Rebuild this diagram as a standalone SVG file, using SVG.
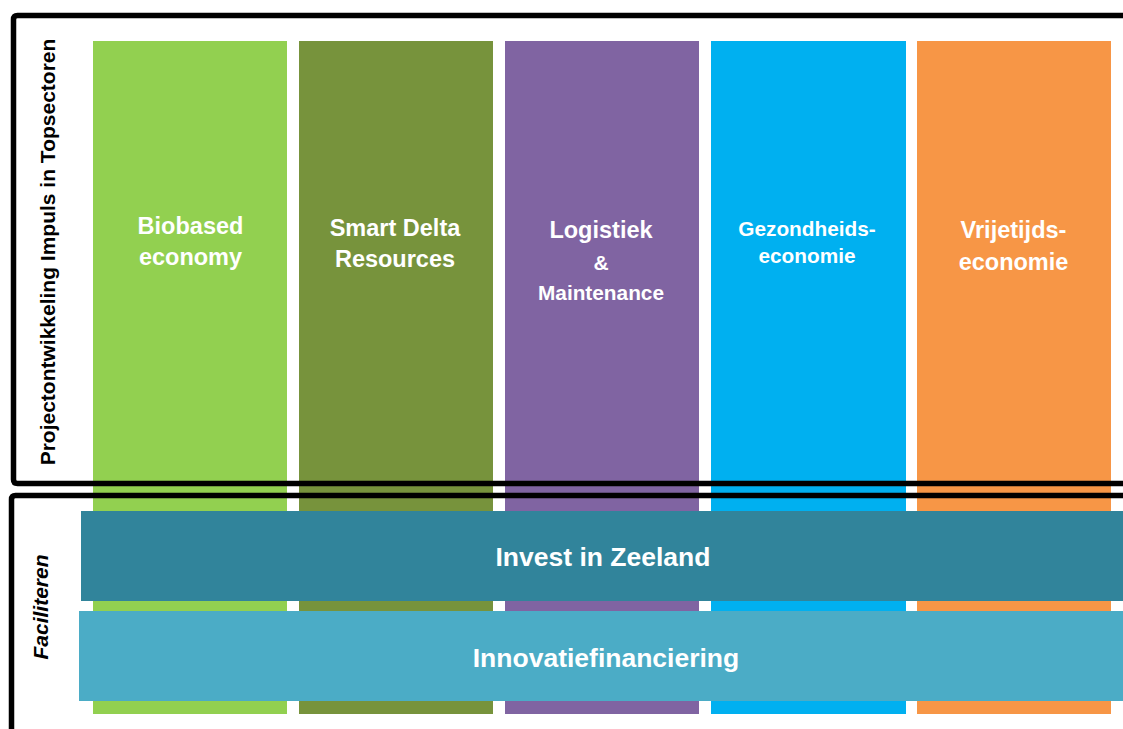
<svg xmlns="http://www.w3.org/2000/svg" width="1123" height="729" viewBox="0 0 1123 729">
<style>
.frame{fill:none;stroke:#000;stroke-width:5.5;stroke-linejoin:round}
.lbl{font-family:"Liberation Sans",Arial,sans-serif;font-weight:bold;fill:#fff;text-anchor:middle}
.side{font-family:"Liberation Sans",Arial,sans-serif;font-weight:bold;fill:#000;text-anchor:middle}
</style>
<rect width="1123" height="729" fill="#fff"/>
<g id="col-biobased">
<rect x="93" y="41" width="194" height="673" fill="#92D050"/>
<text class="lbl" font-size="23.5" x="190.5" y="233.5">Biobased</text>
<text class="lbl" font-size="23.5" x="190.5" y="265">economy</text>
</g>
<g id="col-smartdelta">
<rect x="299" y="41" width="194" height="673" fill="#77933C"/>
<text class="lbl" font-size="23.5" x="395" y="236">Smart Delta</text>
<text class="lbl" font-size="23.5" x="395" y="266.5">Resources</text>
</g>
<g id="col-logistiek">
<rect x="505" y="41" width="194" height="673" fill="#8064A2"/>
<text class="lbl" font-size="23.5" x="601" y="237.5">Logistiek</text>
<text class="lbl" font-size="21" x="601" y="270">&amp;</text>
<text class="lbl" font-size="20.8" x="601" y="299.5">Maintenance</text>
</g>
<g id="col-gezondheid">
<rect x="711" y="41" width="195" height="673" fill="#00B0F0"/>
<text class="lbl" font-size="20.8" x="807" y="236">Gezondheids-</text>
<text class="lbl" font-size="20.8" x="807" y="262.5">economie</text>
</g>
<g id="col-vrijetijd">
<rect x="917" y="41" width="194" height="673" fill="#F79646"/>
<text class="lbl" font-size="23.5" x="1013.5" y="238">Vrijetijds-</text>
<text class="lbl" font-size="23.5" x="1013.5" y="270">economie</text>
</g>
<g id="bar-invest">
<rect x="81" y="511" width="1042" height="90" fill="#31849B"/>
<text class="lbl" font-size="26.5" x="603" y="566">Invest in Zeeland</text>
</g>
<g id="bar-innovatie">
<rect x="79" y="611" width="1044" height="90" fill="#4BACC6"/>
<text class="lbl" font-size="26.5" x="606" y="666.5">Innovatiefinanciering</text>
</g>
<g id="frames">
<path class="frame" d="M1130,15.5 H17.5 Q13.5,15.5 13.5,19.5 V479.5 Q13.5,483.5 17.5,483.5 H1130"/>
<path class="frame" d="M1130,495.5 H15.5 Q11.5,495.5 11.5,499.5 V740"/>
</g>
<g id="label-top">
<text class="side" font-size="21" transform="translate(54.5,252) rotate(-90)">Projectontwikkeling Impuls in Topsectoren</text>
</g>
<g id="label-bottom">
<text class="side" font-size="21" font-style="italic" transform="translate(47.5,607) rotate(-90)">Faciliteren</text>
</g>
<g id="connectors"></g>
</svg>
